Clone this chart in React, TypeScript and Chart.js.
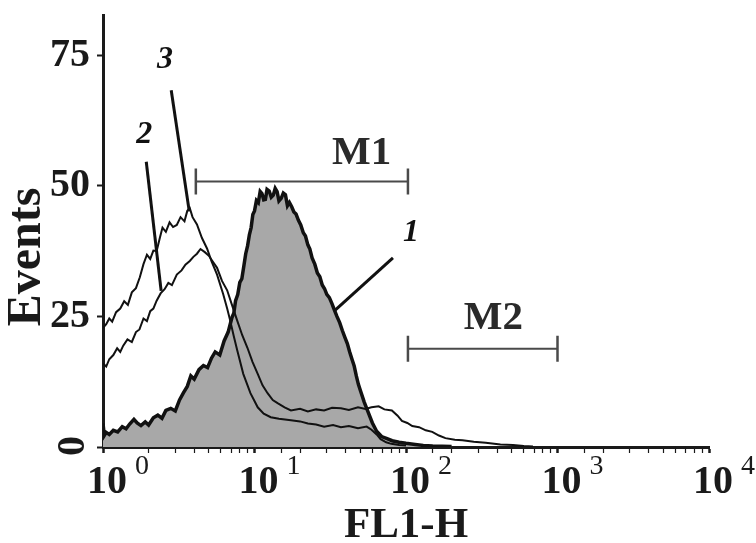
import React, { useEffect, useRef } from 'react';
import { Chart, registerables } from 'chart.js';

Chart.register(...registerables);

const FONT = "'Liberation Serif', 'Times New Roman', Times, serif";

// axis content
const xTickExponents = [0, 1, 2, 3, 4];
const yTickValues = [0, 25, 50, 75];
const xAxisTitle = 'FL1-H';
const yAxisTitle = 'Events';

// curve 1 (filled histogram)
const curve1X = [1.0, 1.02, 1.05, 1.1, 1.17, 1.25, 1.34, 1.42, 1.5, 1.6, 1.68, 1.78, 1.9, 2.0, 2.15, 2.3, 2.45, 2.6, 2.8, 3.0, 3.2, 3.4, 3.6, 3.8, 4.0, 4.3, 4.6, 4.9, 5.2, 5.5, 5.9, 6.3, 6.7, 7.1, 7.3, 7.5, 7.75, 8.0, 8.25, 8.5, 8.75, 9.0, 9.25, 9.5, 9.75, 10.0, 10.3, 10.6, 10.9, 11.2, 11.5, 11.8, 12.1, 12.5, 12.9, 13.3, 13.7, 14.1, 14.5, 15.0, 15.5, 16.0, 16.5, 17.0, 17.6, 18.2, 18.8, 19.5, 20.2, 21, 21.7, 22.5, 23.2, 24, 25, 26, 27, 28, 29, 30, 31.2, 32.5, 33.7, 35, 36.5, 38, 39.5, 41, 42.5, 44, 45.5, 47, 48.5, 50, 53, 56, 60, 64, 69, 75, 81, 90, 100, 115, 130, 150, 200];
const curve1Y = [4.5, 2.2, 2.8, 2.4, 3.2, 2.9, 3.9, 3.5, 4.4, 5.3, 4.6, 4.1, 4.8, 4.2, 5.6, 6.1, 5.5, 7.0, 7.4, 6.9, 9.0, 10.4, 11.6, 13.6, 13.0, 14.8, 15.6, 15.2, 17.0, 18.2, 17.6, 20.3, 22.0, 24.8, 25.6, 28.0, 29.2, 31.5, 32.2, 34.6, 37.0, 38.5, 40.6, 42.0, 44.5, 45.2, 47.2, 46.8, 48.9, 48.5, 47.3, 47.4, 49.3, 49.0, 47.8, 48.2, 49.5, 48.9, 47.1, 47.6, 48.6, 48.3, 46.2, 46.8, 46.0, 45.0, 44.6, 43.4, 42.5, 41.0, 40.4, 38.7, 37.9, 36.2, 35.0, 33.3, 32.6, 31.0, 30.3, 29.2, 28.6, 27.4, 26.2, 25.0, 23.8, 22.3, 21.0, 19.8, 18.2, 16.8, 15.5, 13.6, 12.0, 10.8, 8.6, 6.8, 4.6, 3.0, 2.0, 1.6, 1.2, 0.9, 0.7, 0.5, 0.3, 0.2, 0.1];

// curve 2 (thin, lower start)
const curve2X = [1.0, 1.05, 1.1, 1.17, 1.24, 1.3, 1.36, 1.45, 1.55, 1.65, 1.74, 1.85, 1.95, 2.05, 2.15, 2.26, 2.4, 2.55, 2.7, 2.85, 3.07, 3.3, 3.5, 3.74, 3.95, 4.17, 4.4, 4.7, 5.0, 5.3, 5.66, 6.1, 6.6, 7.1, 7.69, 8.3, 8.98, 9.7, 10.5, 11.3, 12.2, 13.2, 14.2, 15.8, 17.4, 20, 22.5, 25.5, 28.8, 32.5, 37.2, 42, 48.2, 54, 59.2, 66, 72, 80.7, 88, 94, 102, 110, 122, 135, 149, 165, 182, 210, 236, 280, 336, 420, 508, 600, 689];
const curve2Y = [16.0, 15.4, 16.8, 17.6, 18.9, 18.2, 19.4, 20.6, 20.1, 22.0, 22.5, 24.6, 24.1, 26.0, 26.5, 28.0, 29.4, 30.2, 31.4, 31.0, 33.0, 33.8, 34.9, 35.6, 36.4, 37.0, 37.9, 37.3, 36.6, 35.5, 34.3, 31.8, 30.0, 27.2, 24.2, 21.4, 19.0, 16.3, 14.0, 11.8, 10.3, 9.0, 8.4, 7.6, 7.0, 7.3, 6.8, 7.2, 7.0, 7.5, 7.4, 7.1, 7.6, 7.3, 7.6, 7.8, 7.2, 7.0, 6.0, 5.0, 4.6, 4.0, 3.8, 3.2, 2.9, 2.2, 1.7, 1.4, 1.3, 1.0, 0.8, 0.5, 0.4, 0.2, 0.1];

// curve 3 (thin, higher start)
const curve3X = [1.0, 1.05, 1.1, 1.15, 1.22, 1.3, 1.38, 1.46, 1.55, 1.65, 1.75, 1.85, 1.95, 2.05, 2.15, 2.26, 2.38, 2.47, 2.6, 2.75, 2.9, 3.07, 3.25, 3.45, 3.6, 3.74, 3.9, 4.17, 4.5, 4.86, 5.2, 5.66, 6.21, 6.6, 6.91, 7.3, 7.69, 8.43, 9.4, 10.5, 11.5, 12.8, 14.5, 17.4, 20, 22.5, 25.5, 28.8, 33, 37.2, 42, 48.2, 55, 59.2, 64, 68, 74, 80, 90, 100];
const curve3Y = [22.8, 23.5, 24.6, 24.0, 25.8, 26.5, 27.9, 27.2, 29.6, 30.4, 32.5, 35.0, 36.8, 36.0, 37.6, 37.5, 40.2, 42.0, 41.2, 43.0, 42.1, 42.5, 44.0, 43.2, 45.2, 45.7, 44.0, 42.6, 40.0, 38.0, 35.6, 33.0, 29.3, 26.5, 24.2, 21.2, 18.5, 14.0, 10.3, 7.6, 6.4, 5.7, 5.4, 5.1, 4.9, 4.5, 4.3, 3.9, 4.2, 3.8, 4.0, 3.6, 3.9, 3.3, 2.4, 1.5, 0.9, 0.6, 0.4, 0.3];

// gate markers
const markerNames = ['M1', 'M2'];
const markerStart = [4.1, 103];
const markerEnd = [103, 1000];
const markerLevel = [50.8, 18.8];
const markerTextX = [51, 377];
const markerTextY = [56.2, 24.6];

// curve labels with leader lines
const curveLabels = ['1', '2', '3'];
const labelX = [108, 1.87, 2.57];
const labelY = [41.1, 59.8, 74.2];
const leaderFromX = [82, 1.93, 2.82];
const leaderFromY = [36.2, 54.6, 68.3];
const leaderToX = [33.8, 2.42, 3.71];
const leaderToY = [26.1, 29.9, 45.1];

const pts = (xs: number[], ys: number[]) => xs.map((x, i) => ({ x, y: ys[i] }));

const annotate = {
  id: 'annotate',
  afterDraw(chart: any) {
    const { ctx, scales } = chart;
    const x = scales.x;
    const y = scales.y;
    ctx.save();
    ctx.fillStyle = '#1a1a1a';

    // x tick labels 10^k
    xTickExponents.forEach((k) => {
      const px = x.getPixelForValue(Math.pow(10, k)) + 4;
      ctx.font = `bold 40px ${FONT}`;
      ctx.textAlign = 'center';
      ctx.textBaseline = 'alphabetic';
      const w = ctx.measureText('10').width;
      ctx.fillText('10', px, x.top + 46);
      ctx.font = `28px ${FONT}`;
      ctx.textAlign = 'left';
      ctx.fillText(String(k), px + w / 2 + 8, x.top + 27);
    });

    // rotated zero on y axis
    ctx.save();
    ctx.translate(74, y.getPixelForValue(0) - 1);
    ctx.rotate(-Math.PI / 2);
    ctx.font = `bold 40px ${FONT}`;
    ctx.textAlign = 'center';
    ctx.textBaseline = 'middle';
    ctx.fillText(String(yTickValues[0]), 0, 0);
    ctx.restore();

    // y axis title
    ctx.save();
    ctx.translate(28, 257);
    ctx.rotate(-Math.PI / 2);
    ctx.font = `bold 48px ${FONT}`;
    ctx.textAlign = 'center';
    ctx.textBaseline = 'middle';
    ctx.fillText(yAxisTitle, 0, 0);
    ctx.restore();

    // gate names
    ctx.font = `bold 41px ${FONT}`;
    ctx.fillStyle = '#2a2a2a';
    ctx.textAlign = 'center';
    ctx.textBaseline = 'middle';
    markerNames.forEach((n, i) => {
      ctx.fillText(n, x.getPixelForValue(markerTextX[i]), y.getPixelForValue(markerTextY[i]));
    });

    // curve numbers
    ctx.fillStyle = '#111';
    ctx.font = `italic bold 32px ${FONT}`;
    curveLabels.forEach((n, i) => {
      ctx.fillText(n, x.getPixelForValue(labelX[i]), y.getPixelForValue(labelY[i]));
    });
    ctx.restore();
  },
};

export default function App() {
  const ref = useRef<HTMLCanvasElement | null>(null);

  useEffect(() => {
    if (!ref.current) return;
    const leaders = curveLabels.map((_, i) => ({
      data: [
        { x: leaderFromX[i], y: leaderFromY[i] },
        { x: leaderToX[i], y: leaderToY[i] },
      ],
      borderColor: '#111',
      borderWidth: 3,
      pointRadius: 0,
      fill: false,
    }));
    const markers = markerNames.map((_, i) => ({
      data: [
        { x: markerStart[i], y: markerLevel[i] },
        { x: markerEnd[i], y: markerLevel[i] },
      ],
      borderColor: '#4a4a4a',
      borderWidth: 2,
      pointStyle: 'line',
      rotation: 90,
      pointRadius: 13,
      pointBorderWidth: 2.5,
      pointBorderColor: '#4a4a4a',
      fill: false,
    }));
    const chart = new Chart(ref.current, {
      type: 'line',
      data: {
        datasets: [
          ...leaders,
          ...markers,
          {
            data: pts(curve3X, curve3Y),
            borderColor: '#111',
            borderWidth: 2,
            pointRadius: 0,
            fill: false,
          },
          {
            data: pts(curve2X, curve2Y),
            borderColor: '#111',
            borderWidth: 2,
            pointRadius: 0,
            fill: false,
          },
          {
            data: pts(curve1X, curve1Y),
            borderColor: '#111',
            borderWidth: 3.5,
            pointRadius: 0,
            fill: 'origin',
            backgroundColor: '#a8a8a8',
          },
        ] as any,
      },
      options: {
        animation: false,
        responsive: false,
        events: [],
        layout: { padding: { top: 13, right: 47, left: 0, bottom: 0 } },
        plugins: { legend: { display: false }, tooltip: { enabled: false } },
        elements: { line: { tension: 0 } },
        scales: {
          x: {
            type: 'logarithmic',
            min: 1,
            max: 10000,
            afterFit: (s: any) => {
              s.height = 96;
              s.paddingLeft = 0;
              s.paddingRight = 0;
            },
            ticks: { display: false, autoSkip: false },
            grid: {
              drawOnChartArea: false,
              drawTicks: true,
              tickLength: 6,
              tickColor: '#1a1a1a',
              tickWidth: (c: any) => {
                const v = c.tick ? c.tick.value : 0;
                const l = Math.log10(v);
                return Math.abs(l - Math.round(l)) < 1e-6 ? 2.5 : 1.2;
              },
            },
            border: { display: true, color: '#1a1a1a', width: 3 },
            title: {
              display: true,
              text: xAxisTitle,
              color: '#1a1a1a',
              font: { family: FONT, size: 43, weight: 'bold', lineHeight: 0.8 },
              padding: 0,
            },
          },
          y: {
            type: 'linear',
            min: 0,
            max: 82.6,
            afterFit: (s: any) => {
              s.width = 103;
              s.paddingTop = 0;
              s.paddingBottom = 0;
            },
            ticks: {
              stepSize: 25,
              includeBounds: false,
              padding: 7,
              color: '#1a1a1a',
              font: { family: FONT, size: 40, weight: 'bold' },
              callback: (v: any) => (yTickValues.includes(v) && v !== 0 ? String(v) : ''),
            },
            grid: {
              drawOnChartArea: false,
              drawTicks: true,
              tickLength: 6,
              tickColor: '#1a1a1a',
              tickWidth: 2,
            },
            border: { display: true, color: '#1a1a1a', width: 3 },
          },
        },
      } as any,
      plugins: [annotate],
    });
    return () => chart.destroy();
  }, []);

  return (
    <div style={{ position: 'fixed', left: 0, top: 0, width: 756, height: 543, background: '#fff' }}>
      <canvas ref={ref} width={756} height={543} style={{ display: 'block' }} />
    </div>
  );
}
